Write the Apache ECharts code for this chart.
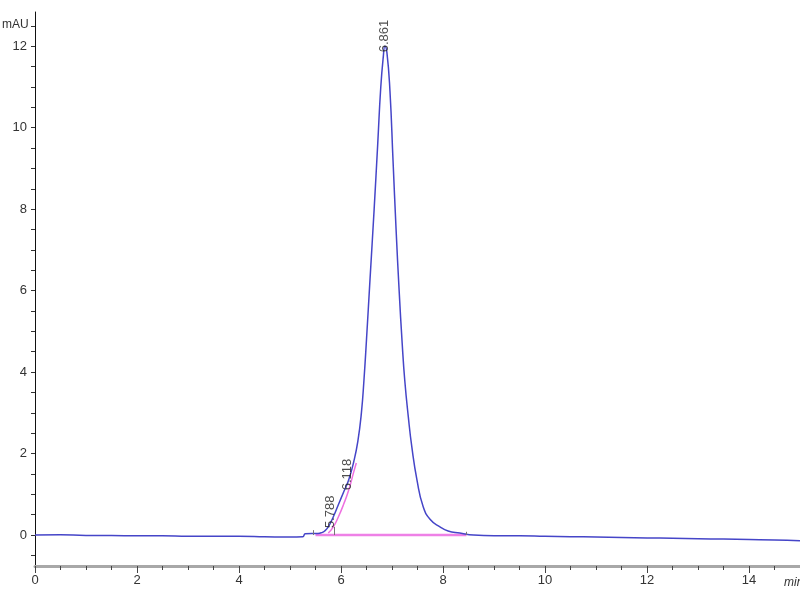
<!DOCTYPE html>
<html>
<head>
<meta charset="utf-8">
<script src="https://cdn.jsdelivr.net/npm/echarts@6/dist/echarts.min.js"></script>
<style>
html, body { margin: 0; padding: 0; background: #fff; }
#main { width: 800px; height: 600px; }
</style>
</head>
<body>
<div id="main"></div>
<script>
// chromatogram trace [min, mAU]
var traceTime = [0, 0.5, 1, 1.5, 2, 2.5, 3, 3.5, 4, 4.5, 5, 5.25, 5.3, 5.55, 5.62, 5.68, 5.75, 5.85, 5.95, 6.05, 6.15, 6.25, 6.33,
    6.4, 6.45, 6.5, 6.57, 6.65, 6.72, 6.78, 6.83, 6.86, 6.9, 6.96, 7.02, 7.08, 7.14, 7.2, 7.25, 7.32, 7.39, 7.49,
    7.61, 7.75, 7.94, 8.1, 8.33, 8.6, 9, 9.5, 10, 10.5, 11, 11.5, 12, 12.5, 13, 13.5, 14, 14.5, 15];
var traceValue = [0, 0.01, -0.01, -0.01, -0.02, -0.02, -0.03, -0.03, -0.03, -0.04, -0.05, -0.04, 0.03, 0.04, 0.06, 0.1, 0.2, 0.45, 0.75, 1.05, 1.35, 1.8, 2.3,
    3.0, 3.8, 4.8, 6.3, 8.0, 9.6, 11.0, 11.75, 12.0, 11.85, 10.9, 9.2, 7.5, 6.0, 4.7, 3.8, 2.9, 2.15, 1.35,
    0.7, 0.38, 0.2, 0.1, 0.05, 0.0, -0.02, -0.02, -0.03, -0.04, -0.05, -0.06, -0.07, -0.08, -0.09, -0.1, -0.11, -0.12, -0.14];

// integration baseline and shoulder fit (pink)
var baseTime = [5.5, 8.46];
var baseValue = [0, 0];
var fitTime = [5.75, 5.85, 5.95, 6.05, 6.15, 6.25, 6.3];
var fitValue = [0.05, 0.2, 0.45, 0.75, 1.1, 1.55, 1.77];

// peak labels
var peakTimes = [5.788, 6.118, 6.861];
var peakLabelY = [0.17, 1.1, 11.85];

// small event marks
var markTimes = [5.45, 5.87, 8.46];
var markTop = [0.12, 0.2, 0.08];

var yLabels = [0, 2, 4, 6, 8, 10, 12];
var yTicks = [-0.5, 0, 0.5, 1, 1.5, 2, 2.5, 3, 3.5, 4, 4.5, 5, 5.5, 6, 6.5, 7, 7.5, 8, 8.5, 9, 9.5, 10, 10.5, 11, 11.5, 12, 12.5];

function pairs(xs, ys) {
    return xs.map(function (x, i) { return [x, ys[i]]; });
}

var myChart = echarts.init(document.getElementById('main'));
option = {
    backgroundColor: '#fff',
    animation: false,
    textStyle: { fontFamily: 'Liberation Sans, Arial, sans-serif' },
    grid: {
        left: 35,
        right: 0,
        top: 12,
        bottom: 34
    },
    xAxis: {
        type: 'value',
        min: 0,
        max: 15,
        interval: 2,
        axisLine: { onZero: false, lineStyle: { color: '#a8a8a8', width: 3 } },
        axisTick: { length: 7, lineStyle: { color: '#444' } },
        minorTick: { show: true, splitNumber: 4, length: 4, lineStyle: { color: '#444' } },
        axisLabel: { showMaxLabel: false, color: '#333', fontSize: 13, margin: 8 },
        splitLine: { show: false }
    },
    yAxis: {
        type: 'value',
        min: -0.76,
        max: 12.84,
        axisLine: { show: true, onZero: false, lineStyle: { color: '#111', width: 1 } },
        axisTick: { show: true, customValues: yTicks, length: 4, lineStyle: { color: '#333' } },
        axisLabel: { customValues: yLabels, color: '#333', fontSize: 13, margin: 8 },
        splitLine: { show: false }
    },
    graphic: [
        { type: 'text', left: 2, top: 19, style: { text: 'mAU', fill: '#333', font: '12px Liberation Sans, Arial, sans-serif' } },
        { type: 'text', left: 784, top: 577, style: { text: 'min', fill: '#333', font: 'italic 12px Liberation Sans, Arial, sans-serif' } }
    ],
    series: [{
        name: 'baseline',
        type: 'line',
        data: pairs(baseTime, baseValue),
        showSymbol: false,
        lineStyle: { color: '#ee80e6', width: 2.5 },
        markLine: {
            symbol: 'none',
            silent: true,
            label: { show: false },
            lineStyle: { color: '#777', width: 1, type: 'solid' },
            data: markTimes.map(function (t, i) { return [{ coord: [t, 0] }, { coord: [t, markTop[i]] }]; })
        },
        z: 2
    }, {
        name: 'fit',
        type: 'line',
        data: pairs(fitTime, fitValue),
        smooth: true,
        showSymbol: false,
        lineStyle: { color: '#ee70e0', width: 1.5 },
        z: 3
    }, {
        name: 'signal',
        type: 'line',
        data: pairs(traceTime, traceValue),
        smooth: 0.5,
        showSymbol: false,
        lineStyle: { color: '#4545c8', width: 1.5 },
        z: 4
    }, {
        name: 'peaks',
        type: 'scatter',
        symbolSize: 0,
        data: pairs(peakTimes, peakLabelY),
        label: {
            show: true,
            position: 'inside',
            rotate: 90,
            align: 'left',
            verticalAlign: 'middle',
            color: '#222',
            fontSize: 13,
            formatter: function (p) { return p.value[0].toFixed(3); }
        },
        z: 5
    }]
};
myChart.setOption(option);
window.onresize = myChart.resize;
</script>
</body>
</html>
